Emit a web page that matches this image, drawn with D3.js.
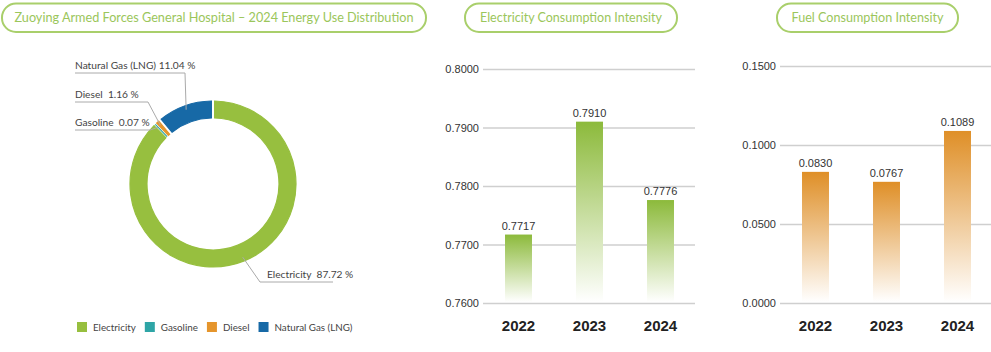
<html>
  <head>
    <style>
      body {
        margin: 0;
        background: #fff;
      }
      .pill {
        fill: none;
        stroke: #a9cf6b;
        stroke-width: 2px;
      }
      .pill-text {
        font-family: Lato, "Open Sans", sans-serif;
        font-size: 12.5px;
        fill: #9bc65b;
      }
      .pie-label {
        font-family: Lato, "Open Sans", sans-serif;
        font-size: 10.2px;
        fill: #444;
        white-space: pre;
      }
      .legend-text {
        font-family: Lato, "Open Sans", sans-serif;
        font-size: 9.8px;
        fill: #444;
      }
      .leader {
        fill: none;
        stroke: #aaa;
        stroke-width: 1px;
      }
      .axis text {
        font-family: "Liberation Sans", Arial, sans-serif;
        font-size: 11px;
        fill: #333;
      }
      .axis line {
        stroke: #cfcfcf;
        stroke-width: 1.5px;
      }
      .value-label {
        font-family: "Liberation Sans", Arial, sans-serif;
        font-size: 11px;
        fill: #333;
      }
      .year-label {
        font-family: "Liberation Sans", Arial, sans-serif;
        font-size: 15px;
        font-weight: bold;
        fill: #222;
      }
    </style>
  </head>
  <body>
    <script src="https://d3js.org/d3.v7.min.js"></script>
    <script>
      var width = 991, height = 352;

      // donut data
      var energyTypes = ["Electricity", "Gasoline", "Diesel", "Natural Gas (LNG)"];
      var energyShares = [87.72, 0.07, 1.16, 11.04];
      var energyColors = ["#97bf3f", "#2ea5a6", "#e5952c", "#1769a6"];
      var energyLabels = ["Electricity  87.72 %", "Gasoline  0.07 %", "Diesel  1.16 %", "Natural Gas (LNG) 11.04 %"];

      // bar data
      var years = ["2022", "2023", "2024"];
      var electricityValues = [0.7717, 0.7910, 0.7776];
      var electricityTicks = [0.76, 0.77, 0.78, 0.79, 0.80];
      var fuelValues = [0.0830, 0.0767, 0.1089];
      var fuelTicks = [0, 0.05, 0.10, 0.15];

      var titles = [
        "Zuoying Armed Forces General Hospital \u2013 2024 Energy Use Distribution",
        "Electricity Consumption Intensity",
        "Fuel Consumption Intensity"
      ];

      var svg = d3.select("body").append("svg")
          .attr("width", width)
          .attr("height", height);

      var defs = svg.append("defs");

      function addGradient(id, color) {
        var g = defs.append("linearGradient")
            .attr("id", id)
            .attr("x1", 0).attr("y1", 0)
            .attr("x2", 0).attr("y2", 1);
        g.append("stop").attr("offset", "0%").attr("stop-color", color);
        g.append("stop").attr("offset", "45%").attr("stop-color", d3.interpolateRgb(color, "#fff")(0.45));
        g.append("stop").attr("offset", "100%").attr("stop-color", "#fff");
      }
      addGradient("grad-green", "#8cba3b");
      addGradient("grad-orange", "#df8f27");

      // title pills
      var pills = [
        { x: 2, w: 424, tw: 399 },
        { x: 465, w: 212, tw: 182 },
        { x: 777, w: 181, tw: 152 }
      ];
      pills.forEach(function(p, i){
        svg.append("rect")
            .attr("class", "pill")
            .attr("x", p.x).attr("y", 3.5)
            .attr("width", p.w).attr("height", 28.5)
            .attr("rx", 14).attr("ry", 14);
        svg.append("text")
            .attr("class", "pill-text")
            .attr("x", p.x + p.w / 2)
            .attr("y", 22)
            .attr("text-anchor", "middle")
            .attr("textLength", p.tw)
            .attr("lengthAdjust", "spacingAndGlyphs")
            .text(titles[i]);
      });

      // donut
      var cx = 213, cy = 184, outerR = 83, innerR = 66;
      var donut = svg.append("g").attr("transform", "translate(" + cx + "," + cy + ")");

      var pie = d3.pie().sort(null).value(function(d){ return d; });
      var arcs = pie(energyShares);
      var arc = d3.arc().innerRadius(innerR).outerRadius(outerR).padAngle(0.03);

      donut.selectAll("path")
          .data(arcs)
        .enter().append("path")
          .attr("d", arc)
          .attr("fill", function(d, i){ return energyColors[i]; })
          .attr("stroke", function(d, i){ return energyColors[i]; })
          .attr("stroke-width", 1.2);

      // leader lines + labels
      var labelLayout = [
        { rowY: 282, elbowX: 260, endX: 333, textX: 267 },
        { rowY: 130, elbowX: 150, endX: 75, textX: 75 },
        { rowY: 102, elbowX: 148, endX: 75, textX: 75 },
        { rowY: 73, elbowX: 185, endX: 75, textX: 75 }
      ];
      arcs.forEach(function(a, i){
        var L = labelLayout[i];
        var mid = (a.startAngle + a.endAngle) / 2;
        var r = 79;
        var sx = cx + r * Math.sin(mid), sy = cy - r * Math.cos(mid);
        svg.append("path")
            .attr("class", "leader")
            .attr("d", d3.line()([[sx, sy], [L.elbowX, L.rowY], [L.endX, L.rowY]]));
        svg.append("text")
            .attr("class", "pie-label")
            .attr("x", L.textX)
            .attr("y", L.rowY - 4)
            .text(energyLabels[i]);
      });

      // legend
      var legend = svg.append("g");
      var lx = 77;
      energyTypes.forEach(function(t, i){
        legend.append("rect")
            .attr("x", lx).attr("y", 322)
            .attr("width", 10).attr("height", 10)
            .attr("fill", energyColors[i]);
        var txt = legend.append("text")
            .attr("class", "legend-text")
            .attr("x", lx + 16)
            .attr("y", 331)
            .text(t);
        lx += 16 + txt.node().getComputedTextLength() + 9;
      });

      // bar charts
      function drawBars(opts) {
        var g = svg.append("g");
        var x = d3.scaleBand()
            .domain(years)
            .range([opts.x0, opts.x1])
            .paddingInner(0.62)
            .paddingOuter(0.31);
        var y = d3.scaleLinear()
            .domain(d3.extent(opts.ticks))
            .range([303, opts.top]);

        var axis = d3.axisLeft(y)
            .tickValues(opts.ticks)
            .tickFormat(d3.format(".4f"))
            .tickSizeInner(-(opts.gridEnd - opts.x0))
            .tickSizeOuter(0)
            .tickPadding(4);
        g.append("g")
            .attr("class", "axis")
            .attr("transform", "translate(" + opts.x0 + ",0)")
            .call(axis)
            .call(function(s){ s.select(".domain").remove(); });

        g.selectAll(".bar")
            .data(opts.values)
          .enter().append("rect")
            .attr("class", "bar")
            .attr("x", function(d, i){ return x(years[i]); })
            .attr("width", x.bandwidth())
            .attr("y", function(d){ return y(d); })
            .attr("height", function(d){ return y(y.domain()[0]) - y(d) - 1; })
            .attr("fill", "url(#" + opts.grad + ")");

        g.selectAll(".value-label")
            .data(opts.values)
          .enter().append("text")
            .attr("class", "value-label")
            .attr("x", function(d, i){ return x(years[i]) + x.bandwidth() / 2; })
            .attr("y", function(d){ return y(d) - 5; })
            .attr("text-anchor", "middle")
            .text(d3.format(".4f"));

        g.selectAll(".year-label")
            .data(years)
          .enter().append("text")
            .attr("class", "year-label")
            .attr("x", function(d){ return x(d) + x.bandwidth() / 2; })
            .attr("y", 331)
            .attr("text-anchor", "middle")
            .text(function(d){ return d; });
      }

      drawBars({ x0: 483, x1: 696, gridEnd: 695, top: 69, ticks: electricityTicks, values: electricityValues, grad: "grad-green" });
      drawBars({ x0: 780, x1: 993, gridEnd: 991, top: 66, ticks: fuelTicks, values: fuelValues, grad: "grad-orange" });
    </script>
  </body>
</html>
